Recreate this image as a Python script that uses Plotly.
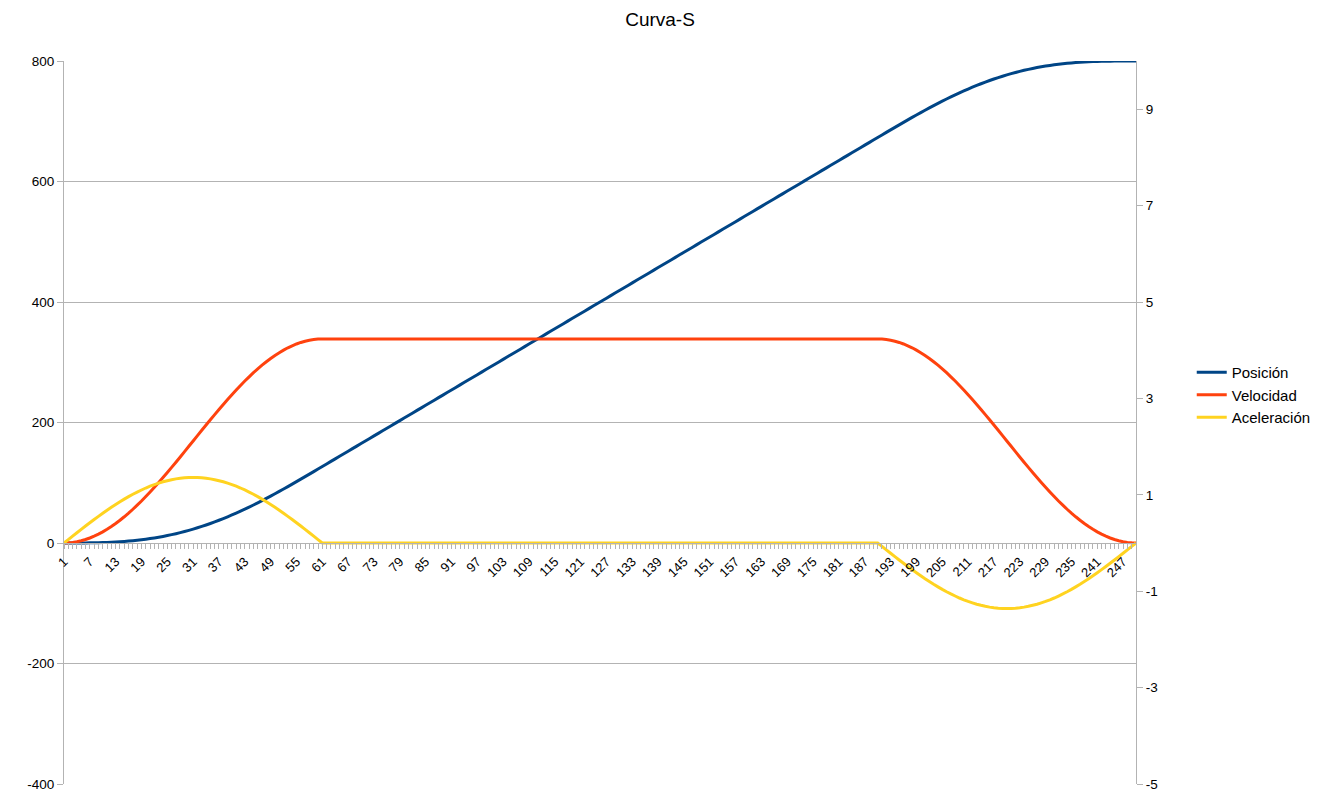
import plotly.graph_objects as go

# ---------------- data ----------------
CATEGORIAS = list(range(1, 251))
ETIQUETAS_X = list(range(1, 250, 6))
TICKS_IZQ = [-400, -200, 0, 200, 400, 600, 800]
TICKS_DER = [-5, -3, -1, 1, 3, 5, 7, 9]

POS_ACELERACION = [0, 0.001, 0.008, 0.026, 0.062, 0.120, 0.208, 0.329, 0.491, 0.697,
                   0.954, 1.266, 1.638, 2.076, 2.583, 3.164, 3.824, 4.566, 5.394, 6.312,
                   7.323, 8.430, 9.635, 10.942, 12.351, 13.867, 15.489, 17.220, 19.060, 21.011,
                   23.072, 25.243, 27.526, 29.918, 32.421, 35.031, 37.748, 40.571, 43.497, 46.525,
                   49.651, 52.873, 56.188, 59.593, 63.084, 66.656, 70.308, 74.033, 77.829, 81.689,
                   85.610, 89.586, 93.612, 97.684, 101.795, 105.940, 110.115, 114.312, 118.526, 122.752,
                   126.984]
POS_CRUCERO = [131.22, 135.45, 139.68, 143.92, 148.15, 152.38, 156.61, 160.85, 165.08, 169.31,
               173.54, 177.78, 182.01, 186.24, 190.48, 194.71, 198.94, 203.17, 207.41, 211.64,
               215.87, 220.11, 224.34, 228.57, 232.80, 237.04, 241.27, 245.50, 249.74, 253.97,
               258.20, 262.43, 266.67, 270.90, 275.13, 279.36, 283.60, 287.83, 292.06, 296.30,
               300.53, 304.76, 308.99, 313.23, 317.46, 321.69, 325.93, 330.16, 334.39, 338.62,
               342.86, 347.09, 351.32, 355.56, 359.79, 364.02, 368.25, 372.49, 376.72, 380.95,
               385.18, 389.42, 393.65, 397.88, 402.12, 406.35, 410.58, 414.81, 419.05, 423.28,
               427.51, 431.75, 435.98, 440.21, 444.44, 448.68, 452.91, 457.14, 461.38, 465.61,
               469.84, 474.07, 478.31, 482.54, 486.77, 491.00, 495.24, 499.47, 503.70, 507.94,
               512.17, 516.40, 520.63, 524.87, 529.10, 533.33, 537.57, 541.80, 546.03, 550.26,
               554.50, 558.73, 562.96, 567.20, 571.43, 575.66, 579.89, 584.13, 588.36, 592.59,
               596.82, 601.06, 605.29, 609.52, 613.76, 617.99, 622.22, 626.45, 630.69, 634.92,
               639.15, 643.39, 647.62, 651.85, 656.08, 660.32, 664.55, 668.78]
POS_FRENADO = [673.016, 677.248, 681.474, 685.688, 689.885, 694.059, 698.205, 702.316, 706.388, 710.414,
               714.391, 718.311, 722.171, 725.967, 729.692, 733.344, 736.916, 740.407, 743.812, 747.127,
               750.349, 753.475, 756.503, 759.429, 762.252, 764.969, 767.579, 770.082, 772.474, 774.757,
               776.928, 778.989, 780.940, 782.780, 784.511, 786.133, 787.649, 789.058, 790.365, 791.570,
               792.677, 793.688, 794.606, 795.434, 796.176, 796.836, 797.417, 797.924, 798.362, 798.734,
               799.046, 799.303, 799.509, 799.671, 799.792, 799.880, 799.938, 799.974, 799.992, 799.999,
               800.000]

VEL_ACELERACION = [0, 0.003, 0.012, 0.026, 0.046, 0.072, 0.104, 0.141, 0.183, 0.231,
                   0.284, 0.341, 0.404, 0.472, 0.544, 0.620, 0.700, 0.785, 0.872, 0.964,
                   1.058, 1.156, 1.256, 1.358, 1.462, 1.569, 1.676, 1.785, 1.895, 2.006,
                   2.116, 2.227, 2.338, 2.448, 2.556, 2.664, 2.770, 2.875, 2.977, 3.077,
                   3.175, 3.269, 3.360, 3.448, 3.533, 3.613, 3.689, 3.761, 3.829, 3.891,
                   3.949, 4.002, 4.050, 4.092, 4.129, 4.161, 4.187, 4.207, 4.221, 4.230,
                   4.233]
VEL_CRUCERO = [4.233, 4.233, 4.233, 4.233, 4.233, 4.233, 4.233, 4.233, 4.233, 4.233,
               4.233, 4.233, 4.233, 4.233, 4.233, 4.233, 4.233, 4.233, 4.233, 4.233,
               4.233, 4.233, 4.233, 4.233, 4.233, 4.233, 4.233, 4.233, 4.233, 4.233,
               4.233, 4.233, 4.233, 4.233, 4.233, 4.233, 4.233, 4.233, 4.233, 4.233,
               4.233, 4.233, 4.233, 4.233, 4.233, 4.233, 4.233, 4.233, 4.233, 4.233,
               4.233, 4.233, 4.233, 4.233, 4.233, 4.233, 4.233, 4.233, 4.233, 4.233,
               4.233, 4.233, 4.233, 4.233, 4.233, 4.233, 4.233, 4.233, 4.233, 4.233,
               4.233, 4.233, 4.233, 4.233, 4.233, 4.233, 4.233, 4.233, 4.233, 4.233,
               4.233, 4.233, 4.233, 4.233, 4.233, 4.233, 4.233, 4.233, 4.233, 4.233,
               4.233, 4.233, 4.233, 4.233, 4.233, 4.233, 4.233, 4.233, 4.233, 4.233,
               4.233, 4.233, 4.233, 4.233, 4.233, 4.233, 4.233, 4.233, 4.233, 4.233,
               4.233, 4.233, 4.233, 4.233, 4.233, 4.233, 4.233, 4.233, 4.233, 4.233,
               4.233, 4.233, 4.233, 4.233, 4.233, 4.233, 4.233, 4.233]
VEL_FRENADO = [4.233, 4.230, 4.221, 4.207, 4.187, 4.161, 4.129, 4.092, 4.050, 4.002,
               3.949, 3.891, 3.829, 3.761, 3.689, 3.613, 3.533, 3.448, 3.360, 3.269,
               3.175, 3.077, 2.977, 2.875, 2.770, 2.664, 2.556, 2.448, 2.338, 2.227,
               2.116, 2.006, 1.895, 1.785, 1.676, 1.569, 1.462, 1.358, 1.256, 1.156,
               1.058, 0.964, 0.872, 0.785, 0.700, 0.620, 0.544, 0.472, 0.404, 0.341,
               0.284, 0.231, 0.183, 0.141, 0.104, 0.072, 0.046, 0.026, 0.012, 0.003,
               0]

ACC_ACELERACION = [0, 0.071, 0.142, 0.213, 0.283, 0.352, 0.420, 0.487, 0.553, 0.617,
                   0.680, 0.741, 0.799, 0.856, 0.910, 0.962, 1.011, 1.057, 1.100, 1.141,
                   1.178, 1.212, 1.242, 1.270, 1.293, 1.314, 1.330, 1.343, 1.353, 1.358,
                   1.360, 1.358, 1.353, 1.343, 1.330, 1.314, 1.293, 1.270, 1.242, 1.212,
                   1.178, 1.141, 1.100, 1.057, 1.011, 0.962, 0.910, 0.856, 0.799, 0.741,
                   0.680, 0.617, 0.553, 0.487, 0.420, 0.352, 0.283, 0.213, 0.142, 0.071,
                   0]
ACC_CRUCERO = [0, 0, 0, 0, 0, 0, 0, 0, 0, 0, 0, 0, 0, 0, 0, 0, 0, 0, 0, 0,
               0, 0, 0, 0, 0, 0, 0, 0, 0, 0, 0, 0, 0, 0, 0, 0, 0, 0, 0, 0,
               0, 0, 0, 0, 0, 0, 0, 0, 0, 0, 0, 0, 0, 0, 0, 0, 0, 0, 0, 0,
               0, 0, 0, 0, 0, 0, 0, 0, 0, 0, 0, 0, 0, 0, 0, 0, 0, 0, 0, 0,
               0, 0, 0, 0, 0, 0, 0, 0, 0, 0, 0, 0, 0, 0, 0, 0, 0, 0, 0, 0,
               0, 0, 0, 0, 0, 0, 0, 0, 0, 0, 0, 0, 0, 0, 0, 0, 0, 0, 0, 0,
               0, 0, 0, 0, 0, 0, 0, 0]
ACC_FRENADO = [0, -0.071, -0.142, -0.213, -0.283, -0.352, -0.420, -0.487, -0.553, -0.617,
               -0.680, -0.741, -0.799, -0.856, -0.910, -0.962, -1.011, -1.057, -1.100, -1.141,
               -1.178, -1.212, -1.242, -1.270, -1.293, -1.314, -1.330, -1.343, -1.353, -1.358,
               -1.360, -1.358, -1.353, -1.343, -1.330, -1.314, -1.293, -1.270, -1.242, -1.212,
               -1.178, -1.141, -1.100, -1.057, -1.011, -0.962, -0.910, -0.856, -0.799, -0.741,
               -0.680, -0.617, -0.553, -0.487, -0.420, -0.352, -0.283, -0.213, -0.142, -0.071,
               0]

POSICION = POS_ACELERACION + POS_CRUCERO + POS_FRENADO
VELOCIDAD = VEL_ACELERACION + VEL_CRUCERO + VEL_FRENADO
ACELERACION = ACC_ACELERACION + ACC_CRUCERO + ACC_FRENADO

for nombre, serie in (("Posición", POSICION), ("Velocidad", VELOCIDAD), ("Aceleración", ACELERACION)):
    if len(serie) != len(CATEGORIAS):
        raise ValueError(f"{nombre}: {len(serie)} values")

# ---------------- figure ----------------
FONT = "Liberation Sans, Arial, sans-serif"
GRID = "#b3b3b3"

fig = go.Figure()
fig.add_trace(go.Scatter(x=CATEGORIAS, y=POSICION, name="Posición", mode="lines",
                         line=dict(color="#004586", width=3, simplify=False), yaxis="y"))
fig.add_trace(go.Scatter(x=CATEGORIAS, y=VELOCIDAD, name="Velocidad", mode="lines",
                         line=dict(color="#ff420e", width=3, simplify=False), yaxis="y2"))
fig.add_trace(go.Scatter(x=CATEGORIAS, y=ACELERACION, name="Aceleración", mode="lines",
                         line=dict(color="#ffd320", width=3, simplify=False), yaxis="y2"))

# the page body adds an 8px offset, compensated in the margins
fig.update_layout(
    width=1323, height=808,
    paper_bgcolor="white", plot_bgcolor="white",
    font=dict(family=FONT, size=13, color="#000000"),
    margin=dict(l=56, r=195, t=53, b=32, pad=0),
    title=dict(text="Curva-S", x=652 / 1323, xanchor="center", y=1 - 11 / 808, yanchor="middle",
               font=dict(family=FONT, size=19, color="#000000")),
    showlegend=True,
    legend=dict(x=1.052, xanchor="left", y=0.538, yanchor="middle",
                font=dict(family=FONT, size=15), bgcolor="rgba(0,0,0,0)",
                tracegroupgap=0, itemwidth=30),
    xaxis=dict(
        range=[1, 250], anchor="free", position=1 / 3,
        tickmode="array", tickvals=ETIQUETAS_X, ticktext=[str(v) for v in ETIQUETAS_X],
        tickangle=-45, ticks="outside", ticklen=5, tickcolor=GRID,
        minor=dict(dtick=1, tick0=1, ticks="outside", ticklen=5, tickcolor=GRID, showgrid=False),
        showline=True, linecolor=GRID, linewidth=1,
        showgrid=False, zeroline=False,
        tickfont=dict(family=FONT, size=13),
    ),
    yaxis=dict(
        range=[-400, 800], tickmode="array", tickvals=TICKS_IZQ,
        ticktext=[str(v) for v in TICKS_IZQ],
        ticks="outside", ticklen=6, tickcolor=GRID,
        showline=True, linecolor=GRID, linewidth=1,
        showgrid=True, gridcolor=GRID, gridwidth=1, zeroline=False,
        tickfont=dict(family=FONT, size=13.5),
    ),
    yaxis2=dict(
        range=[-5, 10], overlaying="y", side="right", anchor="x",
        tickmode="array", tickvals=TICKS_DER, ticktext=[str(v) for v in TICKS_DER],
        ticks="outside", ticklen=6, tickcolor=GRID,
        showline=True, linecolor=GRID, linewidth=1,
        showgrid=False, zeroline=False,
        tickfont=dict(family=FONT, size=13.5),
    ),
)

fig.write_html("out.html")
